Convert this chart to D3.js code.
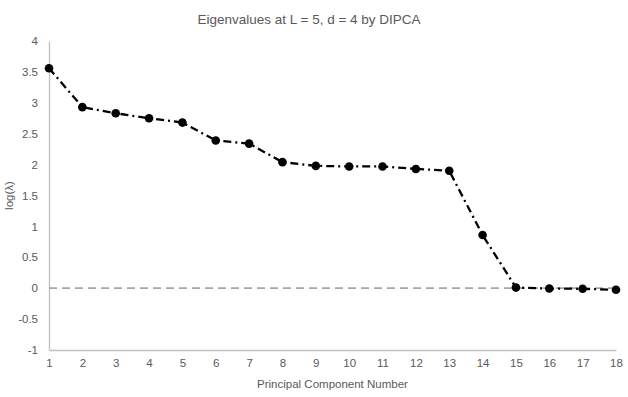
<!DOCTYPE html>
<meta charset="utf-8">
<script src="https://d3js.org/d3.v7.min.js"></script>
<body style="margin:0;background:#fff">
<div id="chart"></div>
</body>
<script>
    // values
    var components = [1, 2, 3, 4, 5, 6, 7, 8, 9, 10, 11, 12, 13, 14, 15, 16, 17, 18]
    var logLambda = [3.56, 2.93, 2.83, 2.75, 2.68, 2.39, 2.34, 2.04, 1.98, 1.97, 1.97, 1.93, 1.90, 0.86, 0.01, -0.005, -0.01, -0.025]
    var yTicks = [-1, -0.5, 0, 0.5, 1, 1.5, 2, 2.5, 3, 3.5, 4]

    var width = 628
    var height = 397
    var margin = { top: 41, right: 12, bottom: 47, left: 49 }

    var svg = d3.select("#chart")
        .append("svg")
        .attr("width", width)
        .attr("height", height)
        .style("font-family", "'Liberation Sans', sans-serif")

    var x = d3.scaleLinear()
        .domain([1, 18])
        .range([margin.left, width - margin.right])

    var y = d3.scaleLinear()
        .domain([-1, 4])
        .range([height - margin.bottom, margin.top])

    var data = components.map(function (c, i) { return { c: c, v: logLambda[i] } })

    // axes (no tick marks, just labels)
    svg.append("g")
        .attr("transform", "translate(0," + y(-1) + ")")
        .call(d3.axisBottom(x).tickValues(components).tickSize(0).tickPadding(9))
    svg.append("g")
        .attr("transform", "translate(" + x(1) + ",0)")
        .call(d3.axisLeft(y).tickValues(yTicks).tickSize(0).tickPadding(11)
            .tickFormat(function (d) { return String(d) }))   // plain hyphen like the original

    svg.selectAll(".domain").attr("stroke", "#bfbfbf").attr("stroke-width", 1.3)
    svg.selectAll(".tick text").attr("fill", "#595959").style("font-size", "11.5px")

    // dashed zero line
    svg.append("line")
        .attr("x1", x(1)).attr("x2", x(18))
        .attr("y1", y(0)).attr("y2", y(0))
        .attr("stroke", "#a6a6a6")
        .attr("stroke-width", 1.8)
        .attr("stroke-dasharray", "8,5")

    // the series
    var line = d3.line()
        .x(function (d) { return x(d.c) })
        .y(function (d) { return y(d.v) })

    svg.append("path")
        .datum(data)
        .attr("fill", "none")
        .attr("stroke", "#000")
        .attr("stroke-width", 2.3)
        .attr("stroke-dasharray", "8,4,2,4")
        .attr("d", line)

    svg.append("g")
        .selectAll("circle")
        .data(data)
        .enter()
        .append("circle")
        .attr("cx", function (d) { return x(d.c) })
        .attr("cy", function (d) { return y(d.v) })
        .attr("r", 4.3)
        .attr("fill", "#000")

    // titles
    svg.append("text")
        .attr("x", 309)
        .attr("y", 24)
        .attr("text-anchor", "middle")
        .attr("fill", "#595959")
        .style("font-size", "13.5px")
        .text("Eigenvalues at L = 5, d = 4 by DIPCA")

    svg.append("text")
        .attr("x", (x(1) + x(18)) / 2)
        .attr("y", 388)
        .attr("text-anchor", "middle")
        .attr("fill", "#595959")
        .style("font-size", "11.5px")
        .text("Principal Component Number")

    svg.append("text")
        .attr("transform", "translate(13," + (y(-1) + y(4)) / 2 + ") rotate(-90)")
        .attr("text-anchor", "middle")
        .attr("fill", "#595959")
        .style("font-size", "11.5px")
        .text("log(λ)")
</script>
